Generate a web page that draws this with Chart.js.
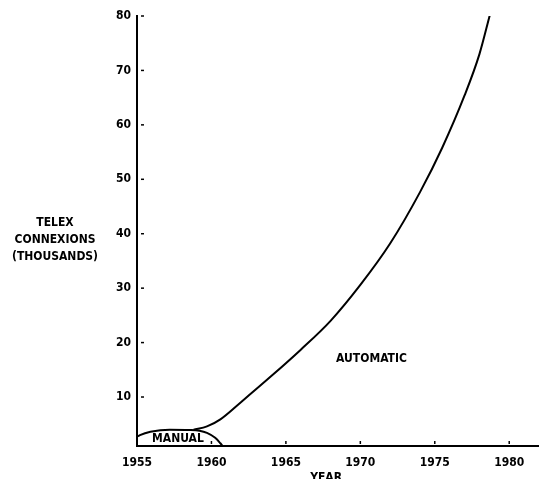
<!DOCTYPE html>
<html>
<head>
<meta charset="utf-8">
<script src="https://cdn.jsdelivr.net/npm/chart.js@4/dist/chart.umd.min.js"></script>
<style>
  body { margin: 0; background: #fff; }
</style>
</head>
<body>
<canvas id="myChart" width="539" height="479"></canvas>
<script>
// telex connexions, thousands
const automaticYears = [1958.8, 1959.7, 1960.6, 1962, 1964, 1966, 1968, 1970, 1972, 1974, 1975.5, 1977, 1978, 1978.7];
const automaticValues = [4.0, 4.6, 5.9, 9.1, 13.8, 18.7, 24.0, 30.6, 38.2, 47.6, 55.8, 65.4, 73.0, 80.2];
const manualYears = [1955.0, 1955.2, 1955.9, 1957.2, 1958.5, 1959.2, 1959.7, 1960.25, 1960.6, 1960.75];
const manualValues = [2.7, 3.0, 3.6, 4.0, 3.95, 3.8, 3.4, 2.5, 1.5, 1.0];
const yearTicks = [1955, 1960, 1965, 1970, 1975, 1980];
const valueTicks = [10, 20, 30, 40, 50, 60, 70, 80];

const FONT = "'DejaVu Sans Condensed', 'Liberation Sans Narrow', sans-serif";

const toPoints = (xs, ys) => xs.map((x, i) => ({ x: x, y: ys[i] }));

// draws inner tick marks, the horizontal y title, the x title and the in-plot labels
const decorations = {
  id: 'decorations',
  afterDraw(chart) {
    const ctx = chart.ctx;
    const x = chart.scales.x;
    const y = chart.scales.y;
    const area = chart.chartArea;
    ctx.save();
    ctx.strokeStyle = '#000';
    ctx.lineWidth = 1.5;
    yearTicks.forEach(t => {
      if (t === 1955) return;
      const px = x.getPixelForValue(t);
      ctx.beginPath();
      ctx.moveTo(px, area.bottom - 2);
      ctx.lineTo(px, area.bottom - 5);
      ctx.stroke();
    });
    valueTicks.forEach(t => {
      const py = y.getPixelForValue(t);
      ctx.beginPath();
      ctx.moveTo(area.left + 4, py);
      ctx.lineTo(area.left + 7, py);
      ctx.stroke();
    });
    ctx.fillStyle = '#000';
    ctx.font = 'bold 12px ' + FONT;
    ctx.textAlign = 'center';
    ctx.textBaseline = 'middle';
    ctx.fillText('TELEX', 55, 223);
    ctx.fillText('CONNEXIONS', 55, 240);
    ctx.fillText('(THOUSANDS)', 55, 257);
    ctx.fillText('YEAR', x.getPixelForValue(1967.7), 478);
    ctx.fillText('AUTOMATIC', x.getPixelForValue(1970.75), y.getPixelForValue(17));
    ctx.fillText('MANUAL', x.getPixelForValue(1957.75), y.getPixelForValue(2.3));
    ctx.restore();
  }
};

const myLineChart = new Chart(document.getElementById('myChart').getContext('2d'), {
  type: 'line',
  data: {
    datasets: [
      {
        label: 'Automatic',
        data: toPoints(automaticYears, automaticValues),
        borderColor: '#000',
        borderWidth: 2,
        pointRadius: 0,
        cubicInterpolationMode: 'monotone',
        fill: false
      },
      {
        label: 'Manual',
        data: toPoints(manualYears, manualValues),
        borderColor: '#000',
        borderWidth: 2,
        pointRadius: 0,
        cubicInterpolationMode: 'monotone',
        fill: false
      }
    ]
  },
  options: {
    responsive: false,
    animation: false,
    devicePixelRatio: 1,
    layout: { padding: { top: 16, right: 0, left: 0, bottom: 0 } },
    plugins: {
      legend: { display: false },
      tooltip: { enabled: false }
    },
    scales: {
      x: {
        type: 'linear',
        min: 1955,
        max: 1982,
        afterBuildTicks: s => { s.ticks = yearTicks.map(v => ({ value: v })); },
        afterFit: s => { s.height = 33; },
        grid: { display: true, drawOnChartArea: false, drawTicks: false },
        border: { color: '#000', width: 2 },
        ticks: {
          color: '#000',
          padding: 10,
          maxRotation: 0,
          font: { family: FONT, size: 12, weight: 'bold' },
          callback: v => String(v)
        }
      },
      y: {
        min: 1,
        max: 80,
        afterBuildTicks: s => { s.ticks = valueTicks.map(v => ({ value: v })); },
        afterFit: s => { s.width = 137; },
        grid: { display: true, drawOnChartArea: false, drawTicks: false },
        border: { color: '#000', width: 2 },
        ticks: {
          color: '#000',
          padding: 6,
          font: { family: FONT, size: 12, weight: 'bold' }
        }
      }
    }
  },
  plugins: [decorations]
});
</script>
</body>
</html>
